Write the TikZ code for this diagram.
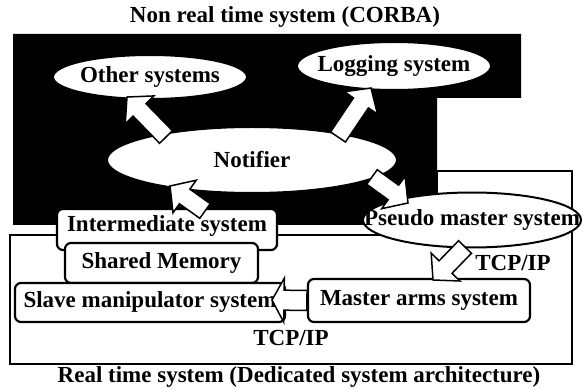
\documentclass[tikz,border=0pt]{standalone}
\usepackage{fontspec}
\setmainfont{Liberation Serif}
\usetikzlibrary{calc,shapes.geometric}
\tikzset{
  txt/.style={inner sep=0pt, font=\fontsize{23}{25}\selectfont\bfseries},
  ell/.style={ellipse, draw=black, line width=2pt, fill=white, inner sep=0pt},
  rbox/.style={rectangle, rounded corners=6pt, draw=black, line width=2.2pt, fill=white, inner sep=0pt},
  blockarr/.style={draw=black, line width=1.5pt, fill=white, line join=miter},
  zone/.style={draw=black, line width=2.6pt},
}
\newcommand\baSW{9pt}\newcommand\baHW{20pt}\newcommand\baHL{18pt}
\newcommand\blockarrow[2]{%
  \path[blockarr] let \p1=(#1), \p2=(#2), \n1={atan2(\y2-\y1,\x2-\x1)}, \n2={veclen(\x2-\x1,\y2-\y1)} in
    [shift={(\p1)}, rotate=\n1]
    (0pt,-\baSW) -- ({\n2-\baHL},-\baSW) -- ({\n2-\baHL},-\baHW) -- (\n2,0pt) -- ({\n2-\baHL},\baHW) -- ({\n2-\baHL},\baSW) -- (0pt,\baSW) -- cycle;
}
\begin{document}
\begin{tikzpicture}[x=1pt,y=-1pt]
\useasboundingbox (0,0) rectangle (584,390);
% zones
\fill[black] (13,34) -- (521,34) -- (521,98) -- (437,98) -- (437,225) -- (13,225) -- cycle;
\draw[zone] (10,235) -- (437,235) -- (437,171) -- (572,171) -- (572,364) -- (10,364) -- cycle;
\node[txt] (nrt) at (285,17) {Non real time system (CORBA)};
\node[txt] (rt) at (299,377) {Real time system (Dedicated system architecture)};
% ellipses
\node[ell, minimum width=194pt, minimum height=44pt] (other) at (150,77) {};
\node[txt] (otherT) at (other.center) {Other systems};
\node[ell, minimum width=194pt, minimum height=48pt] (logging) at (394,66) {};
\node[txt] (loggingT) at (logging.center) {Logging system};
\node[ell, minimum width=290pt, minimum height=66pt] (notifier) at (252,160) {};
\node[txt] (notifierT) at (notifier.center) {Notifier};
\node[ell, minimum width=218pt, minimum height=55pt] (pseudo) at (472,220) {};
\node[txt] (pseudoT) at (pseudo.center) {Pseudo master system};
% boxes
\node[rbox, minimum width=220pt, minimum height=41pt] (inter) at (167,229.5) {};
\node[txt] (interT) at (167,226) {Intermediate system};
\node[rbox, minimum width=193pt, minimum height=40pt] (shm) at (161.5,263) {};
\node[txt] (shmT) at (shm.center) {Shared Memory};
\node[rbox, minimum width=270pt, minimum height=39pt] (slave) at (150,302.5) {};
\node[txt] (slaveT) at (slave.center) {Slave manipulator system};
\node[rbox, minimum width=222pt, minimum height=43pt] (master) at (419,300.5) {};
\node[txt] (masterT) at (master.center) {Master arms system};
\node[txt] (tcp1) at (513,263) {TCP/IP};
\node[txt] (tcp2) at (291,338) {TCP/IP};
% arrow end points
\coordinate (a1s) at (166,137); \coordinate (a1e) at (127,97);
\coordinate (a2s) at (338,137); \coordinate (a2e) at (371,88);
\coordinate (a3s) at (205,211); \coordinate (a3e) at (170,186);
\coordinate (a4s) at (372,177); \coordinate (a4e) at (408,203);
\coordinate (a5s) at (465,247); \coordinate (a5e) at (433,280);
\coordinate (a6s) at (master.west); \coordinate (a6e) at (272,300);
\blockarrow{a1s}{a1e}
\blockarrow{a2s}{a2e}
\blockarrow{a3s}{a3e}
\blockarrow{a4s}{a4e}
\blockarrow{a5s}{a5e}
{\renewcommand\baSW{10pt}\renewcommand\baHW{22pt}\renewcommand\baHL{12pt}
\blockarrow{a6s}{a6e}}
\end{tikzpicture}
\end{document}
